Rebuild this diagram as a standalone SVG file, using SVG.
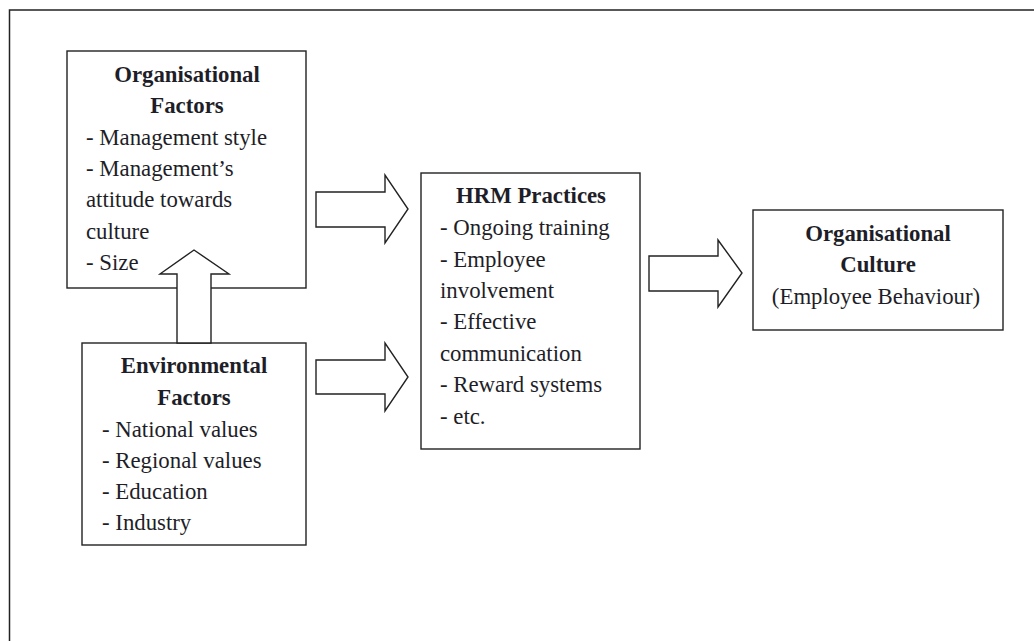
<svg xmlns="http://www.w3.org/2000/svg" width="1034" height="641" viewBox="0 0 1034 641">
<style>
.box{fill:#fff;stroke:#222;stroke-width:1.4}
.arrow{fill:#fff;stroke:#222;stroke-width:1.4;stroke-linejoin:miter}
text{font-family:"Liberation Serif","Times New Roman",serif;font-size:22.8px;fill:#1e1e28}
.t{font-weight:bold;text-anchor:middle}
.c{text-anchor:middle}
</style>
<rect x="9.5" y="10" width="1040" height="660" fill="#fff" stroke="#222" stroke-width="1.5"/>
<g id="org-factors">
<rect class="box" x="67" y="51" width="239" height="237"/>
<text class="t" x="187" y="82">Organisational</text>
<text class="t" x="187" y="113">Factors</text>
<text x="86" y="145">- Management style</text>
<text x="86" y="176">- Management’s</text>
<text x="86" y="207">attitude towards</text>
<text x="86" y="239">culture</text>
<text x="86" y="270">- Size</text>
</g>
<g id="env-factors">
<rect class="box" x="82" y="343" width="224" height="202"/>
<text class="t" x="194" y="373">Environmental</text>
<text class="t" x="194" y="405">Factors</text>
<text x="102" y="437">- National values</text>
<text x="102" y="468">- Regional values</text>
<text x="102" y="499">- Education</text>
<text x="102" y="530">- Industry</text>
</g>
<g id="hrm">
<rect class="box" x="421" y="173" width="219" height="276"/>
<text class="t" x="531" y="203">HRM Practices</text>
<text x="440" y="235">- Ongoing training</text>
<text x="440" y="267">- Employee</text>
<text x="440" y="298">involvement</text>
<text x="440" y="329">- Effective</text>
<text x="440" y="361">communication</text>
<text x="440" y="392">- Reward systems</text>
<text x="440" y="424">- etc.</text>
</g>
<g id="org-culture">
<rect class="box" x="753" y="210" width="250" height="120"/>
<text class="t" x="878" y="241">Organisational</text>
<text class="t" x="878" y="272">Culture</text>
<text class="c" x="876" y="304">(Employee Behaviour)</text>
</g>
<g id="connectors">
<polygon class="arrow" points="177,343 177,274 160,274 194,250 229,274 211,274 211,343"/>
<polygon class="arrow" points="316,192 385,192 385,175 408,209 385,243 385,227 316,227"/>
<polygon class="arrow" points="316,360 385,360 385,343 408,377 385,411 385,394 316,394"/>
<polygon class="arrow" points="649,256 718,256 718,240 742,273 718,307 718,291 649,291"/>
</g>
</svg>
